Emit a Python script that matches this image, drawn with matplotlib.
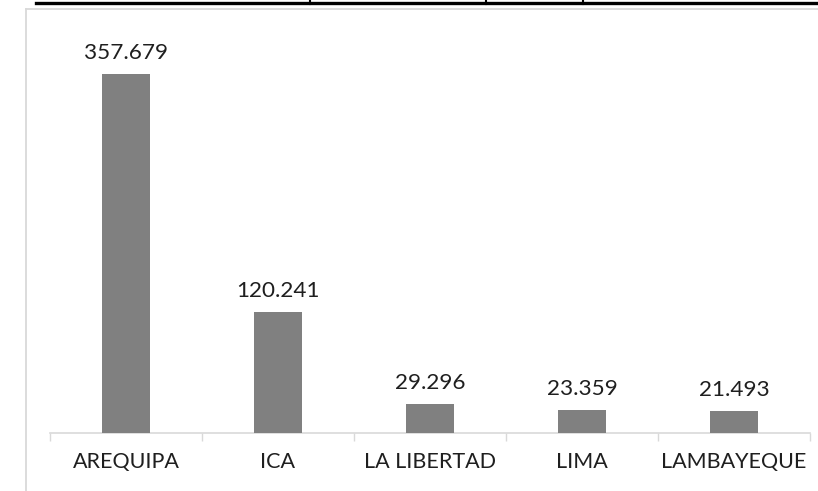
import matplotlib
matplotlib.use("Agg")
import matplotlib.pyplot as plt
from matplotlib.lines import Line2D
import numpy as np

categories = ["AREQUIPA", "ICA", "LA LIBERTAD", "LIMA", "LAMBAYEQUE"]
values = [357.679, 120.241, 29.296, 23.359, 21.493]
value_labels = ["357.679", "120.241", "29.296", "23.359", "21.493"]

W, H = 818, 491
fig = plt.figure(figsize=(W / 100, H / 100), dpi=100)
fig.patch.set_facecolor("white")

plt.rcParams["font.family"] = ["Lato", "DejaVu Sans"]

# axes in pixel coordinates
left, right, top, bottom = 50, 810, 32, 433
ax = fig.add_axes([left / W, (H - bottom) / H, (right - left) / W, (bottom - top) / H])
ax.set_facecolor("none")

x = np.arange(len(categories))
bars = ax.bar(x, values, width=0.316, color="#808080", zorder=3)
ax.set_xlim(-0.5, len(categories) - 0.5)
ax.set_ylim(0, 400)

for xi, v, lab in zip(x, values, value_labels):
    ax.annotate(lab, (xi, v), xytext=(0, 11), textcoords="offset pixels",
                ha="center", va="bottom", fontsize=16.2, color="#1f1f1f")

ax.set_xticks(x)
ax.set_xticklabels(categories, fontsize=15.5, color="#1f1f1f")
ax.tick_params(axis="x", which="major", length=0, pad=14)
ax.set_xticks(np.arange(-0.5, len(categories)), minor=True)
ax.tick_params(axis="x", which="minor", length=6, color="#d9d9d9", width=1)
ax.set_yticks([])
for s in ["left", "right", "top"]:
    ax.spines[s].set_visible(False)
ax.spines["bottom"].set_color("#d9d9d9")
ax.spines["bottom"].set_linewidth(1.2)

# chart border (cropped) and fragment of table line above
def px_line(xs, ys, **kw):
    fig.add_artist(Line2D([xx / W for xx in xs], [1 - yy / H for yy in ys],
                          transform=fig.transFigure, **kw))

px_line([26, 818], [8.5, 8.5], color="#d9d9d9", linewidth=1.3)
px_line([26, 26], [8.5, 491], color="#d9d9d9", linewidth=1.3)
px_line([36, 818], [2.5, 2.5], color="black", linewidth=2.4)
for tx in [310, 486, 583]:
    px_line([tx, tx], [0, 4], color="black", linewidth=1.5)

fig.savefig("out.png", dpi=100, facecolor="white")
